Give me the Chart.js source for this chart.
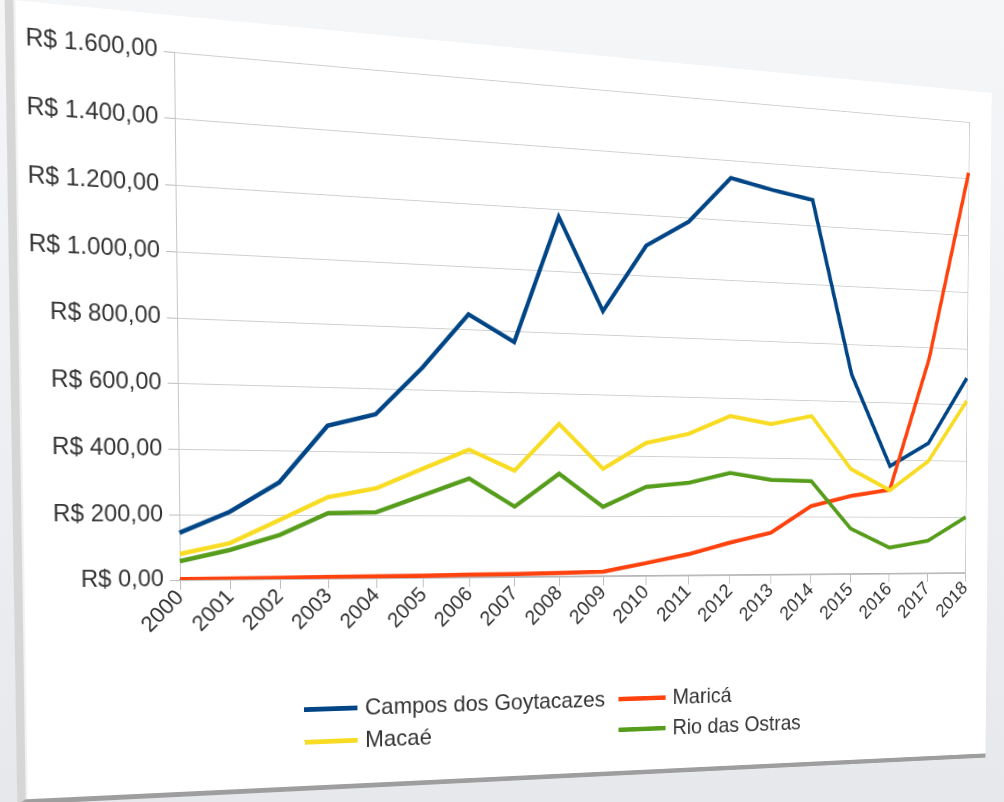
<!DOCTYPE html>
<html>
<head>
<meta charset="utf-8">
<script src="https://cdn.jsdelivr.net/npm/chart.js@4.4.0/dist/chart.umd.min.js"></script>
<style>
    html, body { margin: 0; padding: 0; width: 1004px; height: 802px; overflow: hidden; }
    body {
        background: linear-gradient(180deg, #f5f6f8 0%, #eceef1 60%, #e6e8eb 100%);
        font-family: 'Liberation Sans', Arial, sans-serif;
    }
    #sheet { position: absolute; left: 0; top: 0; width: 1120px; height: 820px; transform-origin: 0 0; }
    #card {
        position: absolute; left: 14px; top: 16px; width: 1100px; height: 782px;
        background: #fff; box-sizing: border-box;
        border-left: 8px solid #d6d6d6; border-bottom: 5px solid #9e9e9e;
        box-shadow: inset 2px 0 0 #f2f2f2;
    }
    #chartCanvas { position: absolute; left: 0; top: 0; }
    #legend {
        position: absolute; left: 299px; top: 699px;
        display: grid; grid-template-columns: auto auto; column-gap: 16px; row-gap: 6px;
        font-size: 24px; color: #333;
    }
    .item { display: flex; align-items: center; height: 28px; }
    .swatch { width: 56px; height: 5px; margin-right: 8px; }
</style>
</head>
<body>
<div id="sheet">
    <div id="card"></div>
    <canvas id="chartCanvas" width="1100" height="700"></canvas>
    <div id="legend"></div>
</div>
<script>
// Data
const years = ['2000', '2001', '2002', '2003', '2004', '2005', '2006', '2007', '2008', '2009',
               '2010', '2011', '2012', '2013', '2014', '2015', '2016', '2017', '2018'];
const campos = [145, 210, 302, 481, 520, 672, 848, 764, 1177, 877, 1100, 1188, 1343, 1313, 1288, 697, 379, 462, 696];
const marica = [2, 3, 4, 5, 6, 7, 9, 10, 12, 15, 43, 72, 111, 145, 237, 273, 296, 760, 1421];
const macae = [80, 113, 185, 257, 286, 350, 413, 347, 502, 357, 445, 478, 541, 517, 548, 367, 294, 398, 614];
const rioOstras = [58, 92, 138, 207, 210, 265, 320, 230, 339, 231, 298, 313, 348, 326, 323, 159, 92, 116, 200];

const seriesNames = ['Campos dos Goytacazes', 'Maricá', 'Macaé', 'Rio das Ostras'];
const seriesColors = ['#004586', '#ff420e', '#f8dc24', '#579d1c'];
const yTickLabels = ['R$ 0,00', 'R$ 200,00', 'R$ 400,00', 'R$ 600,00', 'R$ 800,00',
                     'R$ 1.000,00', 'R$ 1.200,00', 'R$ 1.400,00', 'R$ 1.600,00'];

// Where the plot area corners sit in the (tilted) photo: TL, TR, BR, BL
const plotCorners = [[174, 52], [969, 122], [965, 573], [180, 580]];

const seriesValues = [campos, marica, macae, rioOstras];

const ctx = document.getElementById('chartCanvas').getContext('2d');
const chart = new Chart(ctx, {
    type: 'line',
    data: {
        labels: years,
        datasets: seriesValues.map((vals, i) => ({
            label: seriesNames[i],
            data: vals,
            borderColor: seriesColors[i],
            backgroundColor: seriesColors[i],
            borderWidth: 4.5,
            pointRadius: 0,
            tension: 0,
            order: seriesValues.length - i
        }))
    },
    options: {
        responsive: false,
        animation: false,
        layout: { padding: { left: 24, top: 52, right: 16, bottom: 60 } },
        plugins: { legend: { display: false }, tooltip: { enabled: false } },
        scales: {
            x: {
                offset: false,
                grid: {
                    color: c => (c.index === 0 || c.index === years.length - 1) ? '#c8c8c8' : 'transparent',
                    tickColor: '#bdbdbd',
                    tickLength: 10
                },
                border: { color: '#b4b4b4', width: 1.5 },
                ticks: {
                    font: { family: 'Liberation Sans', size: 22 },
                    color: '#333',
                    maxRotation: 45,
                    minRotation: 45,
                    padding: -5
                },
                afterFit: s => { s.height = 62; }
            },
            y: {
                min: 0,
                max: 1600,
                ticks: {
                    stepSize: 200,
                    font: { family: 'Liberation Sans', size: 23 },
                    color: '#333',
                    padding: 6,
                    callback: (v, i) => yTickLabels[i]
                },
                grid: { color: '#cfcfcf', tickColor: '#bdbdbd', tickLength: 10 },
                border: { color: '#c8c8c8' },
                afterFit: s => { s.width = 150; }
            }
        }
    }
});

// HTML legend, two columns like the original
const legend = document.getElementById('legend');
seriesNames.forEach((name, i) => {
    const item = document.createElement('div');
    item.className = 'item';
    const sw = document.createElement('span');
    sw.className = 'swatch';
    sw.style.background = seriesColors[i];
    const txt = document.createElement('span');
    txt.textContent = name;
    item.appendChild(sw);
    item.appendChild(txt);
    legend.appendChild(item);
});

// Solve the projective transform so the flat chart sits like in the photo
function solve(A, b) {
    const n = b.length;
    const M = A.map((row, i) => row.concat([b[i]]));
    for (let c = 0; c < n; c++) {
        let p = c;
        for (let r = c + 1; r < n; r++) if (Math.abs(M[r][c]) > Math.abs(M[p][c])) p = r;
        [M[c], M[p]] = [M[p], M[c]];
        for (let r = 0; r < n; r++) {
            if (r === c) continue;
            const f = M[r][c] / M[c][c];
            for (let k = c; k <= n; k++) M[r][k] -= f * M[c][k];
        }
    }
    return M.map((row, i) => row[n] / row[i]);
}

function applyPerspective() {
    const a = chart.chartArea;
    const from = [[a.left, a.top], [a.right, a.top], [a.right, a.bottom], [a.left, a.bottom]];
    const A = [], b = [];
    for (let i = 0; i < 4; i++) {
        const [x, y] = from[i];
        const [u, v] = plotCorners[i];
        A.push([x, y, 1, 0, 0, 0, -x * u, -y * u]); b.push(u);
        A.push([0, 0, 0, x, y, 1, -x * v, -y * v]); b.push(v);
    }
    const h = solve(A, b);
    const m = [h[0], h[3], 0, h[6],
               h[1], h[4], 0, h[7],
               0, 0, 1, 0,
               h[2], h[5], 0, 1];
    document.getElementById('sheet').style.transform = 'matrix3d(' + m.join(',') + ')';
}

applyPerspective();
</script>
</body>
</html>
